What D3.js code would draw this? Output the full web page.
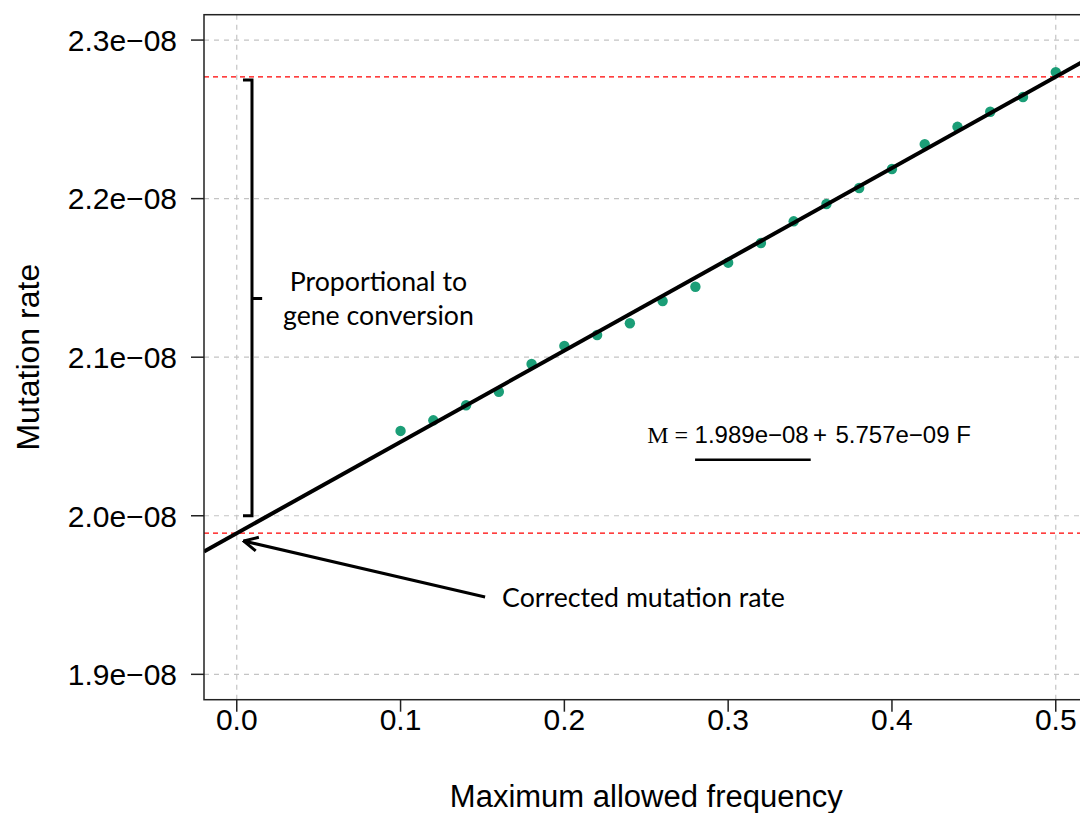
<!DOCTYPE html>
<meta charset="utf-8">
<script src="https://d3js.org/d3.v7.min.js"></script>
<style>
    body { margin: 0; background: #fff; }
    .tick-lab { font-family: "Liberation Sans", Arial, sans-serif; font-size: 30px; fill: #000; }
    .axis-title { font-family: "Liberation Sans", Arial, sans-serif; font-size: 31px; fill: #000; }
    .note { font-family: Lato, "Open Sans", sans-serif; font-size: 26.7px; fill: #000; }
</style>
<div id="my_dataviz"></div>
<script>
    // data (mutation rate in units of 1e-8)
    var freq = [0.10, 0.12, 0.14, 0.16, 0.18, 0.20, 0.22, 0.24, 0.26, 0.28, 0.30,
                0.32, 0.34, 0.36, 0.38, 0.40, 0.42, 0.44, 0.46, 0.48, 0.50];
    var rate = [2.0535, 2.0602, 2.0697, 2.0782, 2.0957, 2.1071, 2.1140, 2.1214, 2.1354, 2.1444, 2.1596,
                2.1720, 2.1857, 2.1966, 2.2067, 2.2187, 2.2344, 2.2453, 2.2548, 2.2641, 2.2798];
    var xTicks = [0.0, 0.1, 0.2, 0.3, 0.4, 0.5];
    var xTickLabels = ["0.0", "0.1", "0.2", "0.3", "0.4", "0.5"];
    var yTicks = [1.9, 2.0, 2.1, 2.2, 2.3];
    var yTickLabels = ["1.9e\u221208", "2.0e\u221208", "2.1e\u221208", "2.2e\u221208", "2.3e\u221208"];
    var intercept = 1.989;   // 1.989e-08
    var slope = 0.5757;      // 5.757e-09

    var width = 1080, height = 813;
    var margin = { top: 14.7, left: 204, bottom: 113.3 };

    var svg = d3.select("#my_dataviz")
        .append("svg")
        .attr("width", width)
        .attr("height", height);

    // R style: axes extend 4% past the data range
    var x = d3.scaleLinear()
        .domain([-0.02, 0.52])
        .range([margin.left, margin.left + 0.54 * 1638]);
    var y = d3.scaleLinear()
        .domain([1.884, 2.316])
        .range([height - margin.bottom, margin.top]);

    var plotLeft = x(-0.02), plotRight = x(0.52), plotTop = y(2.316), plotBottom = y(1.884);

    svg.append("clipPath")
        .attr("id", "clip")
        .append("rect")
        .attr("x", plotLeft)
        .attr("y", plotTop)
        .attr("width", plotRight - plotLeft)
        .attr("height", plotBottom - plotTop);

    var plot = svg.append("g").attr("clip-path", "url(#clip)");

    // grid
    plot.selectAll(".hgrid")
        .data(yTicks)
        .enter()
        .append("line")
        .attr("x1", plotLeft)
        .attr("x2", plotRight)
        .attr("y1", function (d) { return y(d); })
        .attr("y2", function (d) { return y(d); })
        .attr("stroke", "#c4c4c4")
        .attr("stroke-width", 1.2)
        .attr("stroke-dasharray", "5,5");
    plot.selectAll(".vgrid")
        .data([0.0, 0.5])
        .enter()
        .append("line")
        .attr("x1", function (d) { return x(d); })
        .attr("x2", function (d) { return x(d); })
        .attr("y1", plotTop)
        .attr("y2", plotBottom)
        .attr("stroke", "#c4c4c4")
        .attr("stroke-width", 1.2)
        .attr("stroke-dasharray", "5,5");

    // red reference lines at F = 0 and F = 0.5
    plot.selectAll(".ref")
        .data([intercept, intercept + slope * 0.5])
        .enter()
        .append("line")
        .attr("x1", plotLeft)
        .attr("x2", plotRight)
        .attr("y1", function (d) { return y(d); })
        .attr("y2", function (d) { return y(d); })
        .attr("stroke", "#ff0000")
        .attr("stroke-width", 1.2)
        .attr("stroke-dasharray", "5,4");

    // points
    plot.selectAll(".pt")
        .data(freq)
        .enter()
        .append("circle")
        .attr("cx", function (d) { return x(d); })
        .attr("cy", function (d, i) { return y(rate[i]); })
        .attr("r", 5.2)
        .attr("fill", "#1b9e77");

    // fitted line
    plot.append("line")
        .attr("x1", x(-0.02))
        .attr("y1", y(intercept + slope * -0.02))
        .attr("x2", x(0.52))
        .attr("y2", y(intercept + slope * 0.52))
        .attr("stroke", "#000")
        .attr("stroke-width", 4);

    // frame
    svg.append("rect")
        .attr("x", plotLeft)
        .attr("y", plotTop)
        .attr("width", plotRight - plotLeft)
        .attr("height", plotBottom - plotTop)
        .attr("fill", "none")
        .attr("stroke", "#222")
        .attr("stroke-width", 1.5);

    // axes
    svg.selectAll(".xtick")
        .data(xTicks)
        .enter()
        .append("line")
        .attr("x1", function (d) { return x(d); })
        .attr("x2", function (d) { return x(d); })
        .attr("y1", plotBottom)
        .attr("y2", plotBottom + 12)
        .attr("stroke", "#222")
        .attr("stroke-width", 1.5);
    svg.selectAll(".xlab")
        .data(xTicks)
        .enter()
        .append("text")
        .attr("class", "tick-lab")
        .attr("x", function (d) { return x(d); })
        .attr("y", plotBottom + 30)
        .attr("text-anchor", "middle")
        .text(function (d, i) { return xTickLabels[i]; });

    svg.selectAll(".ytick")
        .data(yTicks)
        .enter()
        .append("line")
        .attr("x1", plotLeft - 13)
        .attr("x2", plotLeft)
        .attr("y1", function (d) { return y(d); })
        .attr("y2", function (d) { return y(d); })
        .attr("stroke", "#222")
        .attr("stroke-width", 1.5);
    svg.selectAll(".ylab")
        .data(yTicks)
        .enter()
        .append("text")
        .attr("class", "tick-lab")
        .attr("x", plotLeft - 27)
        .attr("y", function (d) { return y(d); })
        .attr("dy", "0.36em")
        .attr("text-anchor", "end")
        .text(function (d, i) { return yTickLabels[i]; });

    svg.append("text")
        .attr("class", "axis-title")
        .attr("x", x(0.25))
        .attr("y", 807)
        .attr("text-anchor", "middle")
        .text("Maximum allowed frequency");
    svg.append("text")
        .attr("class", "axis-title")
        .style("font-size", "32px")
        .attr("transform", "translate(39," + y(2.1) + ")rotate(-90)")
        .attr("text-anchor", "middle")
        .text("Mutation rate");

    // bracket: gene conversion part
    var bx = 0.0093, bHook = 0.0038, bMid = 0.0155;
    var bTop = 2.2748, bBot = 2.0, bCen = 2.137;
    svg.append("path")
        .attr("d", "M" + x(bHook) + "," + y(bTop) + "H" + x(bx) + "V" + y(bBot) + "H" + x(bHook) +
            "M" + x(bx) + "," + y(bCen) + "H" + x(bMid))
        .attr("fill", "none")
        .attr("stroke", "#000")
        .attr("stroke-width", 3);
    svg.append("text")
        .attr("class", "note")
        .attr("x", x(0.0865))
        .attr("y", y(2.1415))
        .attr("text-anchor", "middle")
        .text("Proportional to");
    svg.append("text")
        .attr("class", "note")
        .attr("x", x(0.0865))
        .attr("y", y(2.12))
        .attr("text-anchor", "middle")
        .text("gene conversion");

    // arrow to the intercept
    svg.append("defs").append("marker")
        .attr("id", "head")
        .attr("viewBox", "0 0 20 20")
        .attr("refX", 1)
        .attr("refY", 10)
        .attr("markerWidth", 20)
        .attr("markerHeight", 20)
        .attr("markerUnits", "userSpaceOnUse")
        .attr("orient", "auto")
        .append("path")
        .attr("d", "M15,3L1,10L15,17")
        .attr("fill", "none")
        .attr("stroke", "#000")
        .attr("stroke-width", 3);
    svg.append("line")
        .attr("x1", x(0.0042))
        .attr("y1", y(1.9841))
        .attr("x2", x(0.1516))
        .attr("y2", y(1.9488))
        .attr("stroke", "#000")
        .attr("stroke-width", 3)
        .attr("marker-start", "url(#head)");
    svg.append("text")
        .attr("class", "note")
        .attr("x", x(0.162))
        .attr("y", y(1.9425))
        .text("Corrected mutation rate");

    // fitted equation
    var eqY = 2.0457;
    var eq = svg.append("g").attr("font-size", "24px");
    eq.append("text")
        .attr("x", x(0.2755))
        .attr("y", y(eqY))
        .attr("text-anchor", "end")
        .attr("font-family", "Liberation Serif, Times, serif")
        .text("M =");
    eq.append("text")
        .attr("x", x(0.2795))
        .attr("y", y(eqY))
        .attr("font-family", "Liberation Sans, Arial, sans-serif")
        .text("1.989e\u221208");
    eq.append("text")
        .attr("x", x(0.3561))
        .attr("y", y(eqY))
        .attr("text-anchor", "middle")
        .attr("font-family", "Liberation Sans, Arial, sans-serif")
        .text("+");
    eq.append("text")
        .attr("x", x(0.3655))
        .attr("y", y(eqY))
        .attr("font-family", "Liberation Sans, Arial, sans-serif")
        .text("5.757e\u221209 F");
    eq.append("line")
        .attr("x1", x(0.2798))
        .attr("x2", x(0.3504))
        .attr("y1", y(2.0353))
        .attr("y2", y(2.0353))
        .attr("stroke", "#000")
        .attr("stroke-width", 2.5);
</script>
